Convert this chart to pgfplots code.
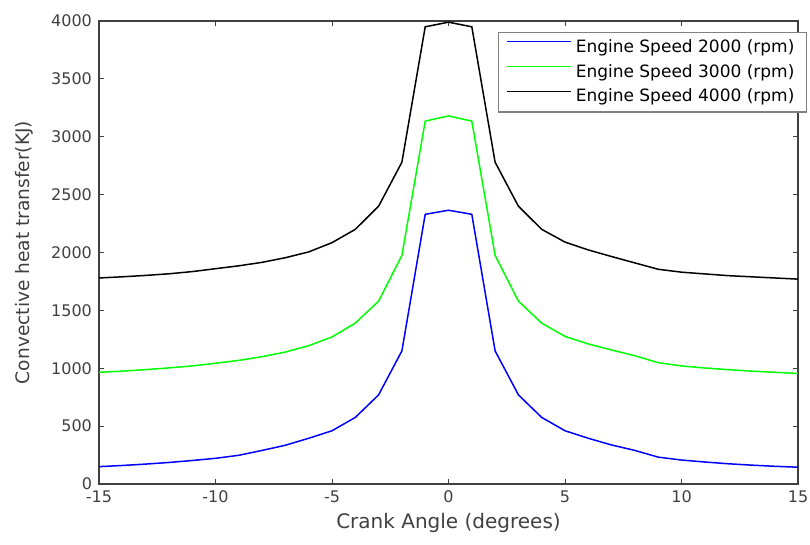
\documentclass[border=0pt]{standalone}
\usepackage{fontspec}
\setmainfont{DejaVu Sans}
\usepackage{pgfplots}
\pgfplotsset{compat=1.18}
\definecolor{axgray}{HTML}{404040}
\begin{document}
\begin{tikzpicture}
\begin{axis}[
  scale only axis,
  width=349.5pt, height=231.5pt,
  xmin=-15, xmax=15, ymin=0, ymax=4000,
  xtick={-15,-10,...,15},
  ytick={0,500,...,4000},
  tick align=inside,
  major tick length=2.5pt,
  axis line style={axgray, line width=0.6pt},
  every tick/.style={axgray, line width=0.5pt},
  tick label style={font=\fontsize{8}{9}\selectfont, text=black!75},
  /pgf/number format/assume math mode=true,
  scaled y ticks=false,
  yticklabel style={/pgf/number format/1000 sep={}},
  xlabel={Crank Angle (degrees)},
  ylabel={Convective heat transfer(KJ)},
  xlabel style={font=\fontsize{10}{11}\selectfont, text=black!75, yshift=2pt},
  ylabel style={font=\fontsize{9.3}{11}\selectfont, text=black!75, yshift=2pt},
  legend cell align=left,
  legend style={at={(1.0129,0.977)}, anchor=north east, draw=gray, line width=0.6pt,
    fill=white, font=\fontsize{8.5}{10}\selectfont, row sep=0.5pt,
    inner xsep=4pt, inner ysep=1.5pt},
  legend image code/.code={\draw[#1] (0pt,2.8pt) -- (32pt,2.8pt);},
  every axis plot/.append style={line width=0.75pt},
]
\addplot[blue] coordinates {
(-15,150) (-14,160) (-13,172) (-12,186) (-11,203) (-10,222) (-9,248) (-8,290) (-7,335) (-6,395) (-5,460) (-4,575) (-3,770) (-2,1150) (-1,2330) (0,2365) (1,2330) (2,1150) (3,770) (4,575) (5,460) (6,395) (7,337) (8,290) (9,232) (10,207) (11,190) (12,175) (13,163) (14,153) (15,145)
};
\addlegendentry{Engine Speed 2000 (rpm)}
\addplot[green] coordinates {
(-15,965) (-14,975) (-13,988) (-12,1003) (-11,1020) (-10,1043) (-9,1068) (-8,1100) (-7,1140) (-6,1195) (-5,1270) (-4,1390) (-3,1580) (-2,1975) (-1,3135) (0,3180) (1,3135) (2,1975) (3,1580) (4,1390) (5,1275) (6,1210) (7,1158) (8,1108) (9,1048) (10,1020) (11,1002) (12,988) (13,975) (14,965) (15,955)
};
\addlegendentry{Engine Speed 3000 (rpm)}
\addplot[black] coordinates {
(-15,1780) (-14,1790) (-13,1802) (-12,1816) (-11,1835) (-10,1860) (-9,1885) (-8,1915) (-7,1955) (-6,2005) (-5,2085) (-4,2200) (-3,2400) (-2,2780) (-1,3950) (0,3990) (1,3950) (2,2780) (3,2400) (4,2200) (5,2090) (6,2022) (7,1965) (8,1910) (9,1855) (10,1830) (11,1815) (12,1800) (13,1790) (14,1780) (15,1770)
};
\addlegendentry{Engine Speed 4000 (rpm)}
\end{axis}
\pgfresetboundingbox
\path (current axis.south west) +(-49.5pt,-30pt) (current axis.north east) +(6pt,10.5pt);
\end{tikzpicture}
\end{document}
